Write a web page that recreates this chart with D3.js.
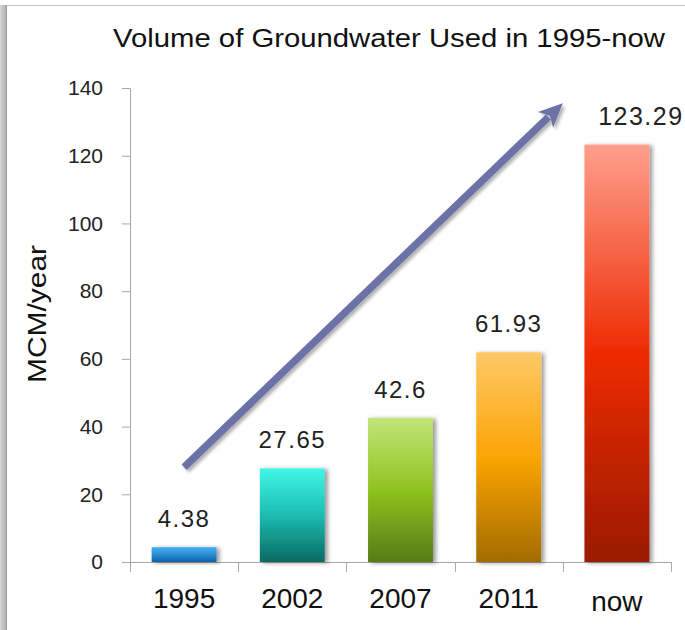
<!DOCTYPE html>
<html>
<head>
<meta charset="utf-8">
<script src="https://cdn.jsdelivr.net/npm/d3@7"></script>
<style>
  html, body { margin: 0; padding: 0; background: #ffffff; }
  svg { display: block; font-family: "Liberation Sans", Arial, Helvetica, sans-serif; }
</style>
</head>
<body>
<svg id="chart" width="685" height="630"></svg>
<script>
// Groundwater use by period (million cubic metres per year)
const categories = ["1995", "2002", "2007", "2011", "now"];
const volumes = [4.38, 27.65, 42.6, 61.93, 123.29];
const valueLabels = ["4.38", "27.65", "42.6", "61.93", "123.29"];
const yTicks = [0, 20, 40, 60, 80, 100, 120, 140];

// Gradient stops for each bar, top -> middle -> bottom
const barGradients = [
  ["#45b0ef", "#2a8ed6", "#0e5fa6"],
  ["#42f6e6", "#1cbcb2", "#0a6a62"],
  ["#c3e57a", "#8fc31f", "#557b16"],
  ["#fec866", "#fba506", "#a36b02"],
  ["#ff9f8d", "#ee2b02", "#9a1a00"]
];

// Trend arrow, expressed in chart units: [category position, value]
const trendStart = { band: 0, at: "center", value: 28 };
const trendEnd = { band: 4, at: "start", value: 135.5 };

const svg = d3.select("#chart");
const defs = svg.append("defs");

// Page frame: grey edge on the left and a thin rule along the top
const frameGrad = defs.append("linearGradient").attr("id", "frameEdge")
  .attr("x1", "0").attr("x2", "1").attr("y1", "0").attr("y2", "0");
frameGrad.append("stop").attr("offset", "0").attr("stop-color", "#d6d6d6");
frameGrad.append("stop").attr("offset", "0.7").attr("stop-color", "#b9b9b9");
frameGrad.append("stop").attr("offset", "1").attr("stop-color", "#9a9a9a");
svg.append("rect").attr("x", 0).attr("y", 5).attr("width", 7).attr("height", 625)
  .attr("fill", "url(#frameEdge)");
svg.append("line").attr("x1", 7).attr("x2", 685).attr("y1", 5.5).attr("y2", 5.5)
  .attr("stroke", "#c4c4c4").attr("stroke-width", 1);

const shadow = defs.append("filter").attr("id", "barShadow")
  .attr("x", "-20%").attr("y", "-10%").attr("width", "150%").attr("height", "130%");
shadow.append("feDropShadow").attr("dx", 3).attr("dy", 1).attr("stdDeviation", 2)
  .attr("flood-color", "#000").attr("flood-opacity", 0.4);

const arrowShadow = defs.append("filter").attr("id", "arrowShadow")
  .attr("x", "-20%").attr("y", "-20%").attr("width", "140%").attr("height", "140%");
arrowShadow.append("feDropShadow").attr("dx", 2.5).attr("dy", 2.5).attr("stdDeviation", 1.5)
  .attr("flood-color", "#000").attr("flood-opacity", 0.3);

barGradients.forEach((stops, i) => {
  const g = defs.append("linearGradient").attr("id", "barGrad" + i)
    .attr("x1", "0").attr("x2", "0").attr("y1", "0").attr("y2", "1");
  g.append("stop").attr("offset", "0").attr("stop-color", stops[0]);
  g.append("stop").attr("offset", "0.5").attr("stop-color", stops[1]);
  g.append("stop").attr("offset", "1").attr("stop-color", stops[2]);
});

// Scales
const plotLeft = 130, plotRight = 671, plotTop = 88, plotBottom = 562;
const x = d3.scaleBand().domain(categories).range([plotLeft, plotRight])
  .paddingInner(0.4).paddingOuter(0.2);
const y = d3.scaleLinear().domain([0, 140]).range([plotBottom, plotTop]);
const step = x.step();
const bandStart = c => x(c) - step * 0.2;
const bandCenter = c => x(c) + x.bandwidth() / 2;

// Title
svg.append("text")
  .attr("x", 113).attr("y", 47)
  .attr("font-size", 25).attr("fill", "#111")
  .attr("textLength", 552).attr("lengthAdjust", "spacingAndGlyphs")
  .text("Volume of Groundwater Used in 1995-now");

// Y axis title
svg.append("text")
  .attr("transform", "translate(46,314) rotate(-90)")
  .attr("text-anchor", "middle")
  .attr("font-size", 25).attr("fill", "#111")
  .attr("textLength", 138).attr("lengthAdjust", "spacingAndGlyphs")
  .text("MCM/year");

// Y axis
const yAxis = d3.axisLeft(y).tickValues(yTicks).tickSize(8).tickSizeOuter(0).tickPadding(19)
  .tickFormat(d3.format("d"));
const yg = svg.append("g").attr("transform", `translate(${plotLeft},0)`).call(yAxis);
yg.select(".domain").attr("stroke", "#a8a8a8");
yg.selectAll(".tick line").attr("stroke", "#a8a8a8");
yg.selectAll(".tick text").attr("font-size", 21).attr("fill", "#222")
  .attr("font-family", "\"Liberation Sans\", Arial, sans-serif");

// X axis: baseline plus tick marks at band boundaries
const boundaries = categories.map(bandStart).concat([plotRight]);
svg.append("line")
  .attr("x1", plotLeft).attr("x2", plotRight)
  .attr("y1", y(0) + 0.5).attr("y2", y(0) + 0.5)
  .attr("stroke", "#a8a8a8");
svg.selectAll("line.xtick").data(boundaries).join("line")
  .attr("class", "xtick")
  .attr("x1", d => Math.round(d) + 0.5).attr("x2", d => Math.round(d) + 0.5)
  .attr("y1", y(0)).attr("y2", y(0) + 10)
  .attr("stroke", "#a8a8a8");
svg.selectAll("text.xlabel").data(categories).join("text")
  .attr("class", "xlabel")
  .attr("x", d => bandCenter(d))
  .attr("y", (d, i) => i === categories.length - 1 ? 611 : 608)
  .attr("text-anchor", "middle")
  .attr("font-size", 28).attr("fill", "#111")
  .text(d => d);

// Bars
svg.selectAll("rect.bar").data(volumes).join("rect")
  .attr("class", "bar")
  .attr("x", (d, i) => x(categories[i]))
  .attr("y", d => y(d))
  .attr("width", x.bandwidth())
  .attr("height", d => y(0) - y(d))
  .attr("fill", (d, i) => `url(#barGrad${i})`)
  .attr("filter", "url(#barShadow)");

// Value labels above the bars; the last one sits a little to the right
svg.selectAll("text.value").data(volumes).join("text")
  .attr("class", "value")
  .attr("x", (d, i) => bandCenter(categories[i]) + (i === volumes.length - 1 ? 24 : 0))
  .attr("y", d => y(d) - 20)
  .attr("text-anchor", "middle")
  .attr("font-size", (d, i) => i === volumes.length - 1 ? 25 : 24)
  .attr("letter-spacing", 1.5).attr("fill", "#222")
  .text((d, i) => valueLabels[i]);

// Trend arrow
const px = p => p.at === "center" ? bandCenter(categories[p.band]) : bandStart(categories[p.band]);
const x0 = px(trendStart), y0 = y(trendStart.value);
const x1 = px(trendEnd), y1 = y(trendEnd.value);
const ang = Math.atan2(y1 - y0, x1 - x0);
const headLen = 24, headHalf = 11;
const bx = x1 - headLen * Math.cos(ang), by = y1 - headLen * Math.sin(ang);
const nx = -Math.sin(ang), ny = Math.cos(ang);
const arrow = svg.append("g").attr("filter", "url(#arrowShadow)");
arrow.append("line")
  .attr("x1", x0).attr("y1", y0)
  .attr("x2", bx + 4 * Math.cos(ang)).attr("y2", by + 4 * Math.sin(ang))
  .attr("stroke", "#6c72a6").attr("stroke-width", 7.5);
arrow.append("path")
  .attr("d", d3.line()([
    [x1, y1],
    [bx + nx * headHalf, by + ny * headHalf],
    [bx + 6 * Math.cos(ang), by + 6 * Math.sin(ang)],
    [bx - nx * headHalf, by - ny * headHalf]
  ]) + "Z")
  .attr("fill", "#6c72a6");
</script>
</body>
</html>
